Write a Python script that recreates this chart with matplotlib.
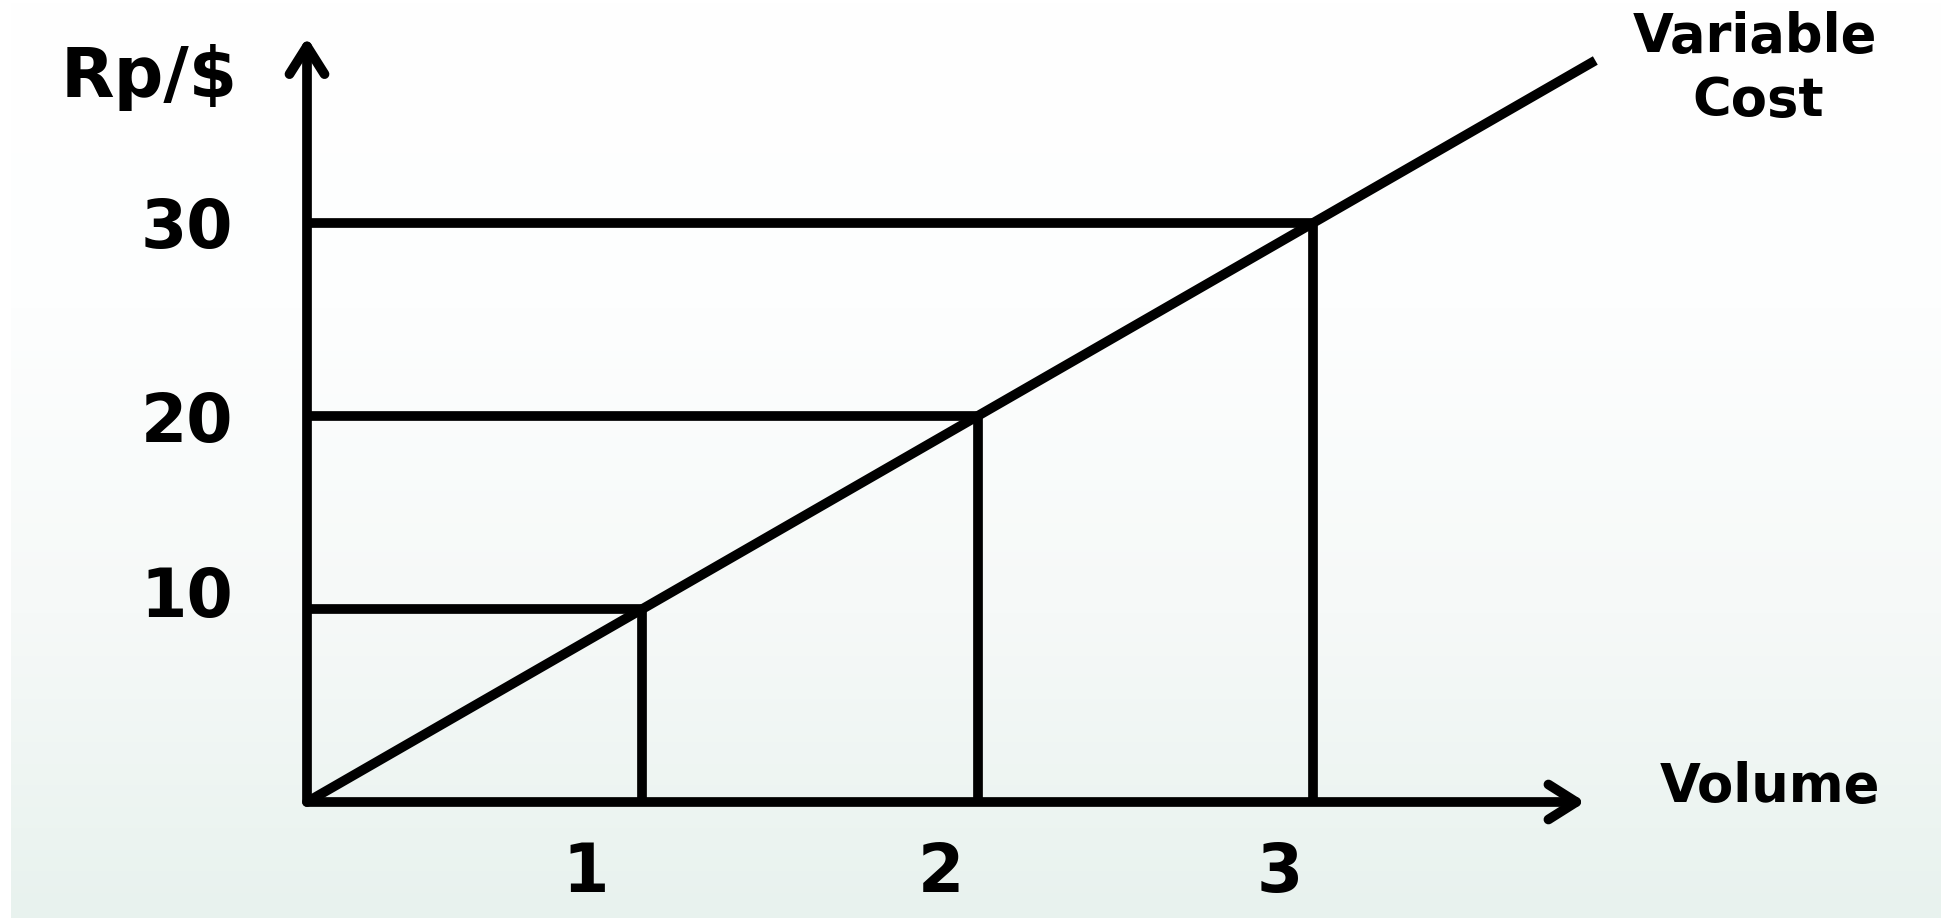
import numpy as np
import matplotlib.pyplot as plt
from matplotlib.colors import LinearSegmentedColormap

# data
volume = [1, 2, 3]
cost = [10, 20, 30]
line_end = 3.84          # where the variable cost line stops (volume units)
unit_cost = 10

# small hand-placed nudges of the tick labels (in data units)
xlab_nudge = [-0.17, -0.11, -0.10]
ylab_nudge = [0.55, -0.35, -0.35]

font = 'DejaVu Sans'

W, H, DPI = 1941, 921, 100
fig = plt.figure(figsize=(W / DPI, H / DPI), dpi=DPI)

# background gradient panel (white top -> light mint bottom)
bg = fig.add_axes([0, 0, 1, 1], zorder=0)
bg.set_axis_off()
cmap = LinearSegmentedColormap.from_list('bg', ['#ffffff', '#fdfefe', '#f6f9f8', '#e8f2ee'])
grad = np.linspace(0, 1, 256).reshape(-1, 1)
bg.imshow(grad, cmap=cmap, aspect='auto', extent=[11 / W, 1, 3 / H, 1], origin='upper')
bg.set_xlim(0, 1)
bg.set_ylim(0, 1)

# main axes over the whole figure, origin at pixel (307, 802)
ax = fig.add_axes([0, 0, 1, 1], zorder=1)
ax.patch.set_alpha(0)
px_x, px_y = 335.5, 19.31
ox, oy = 307, H - 802
ax.set_xlim(-ox / px_x, (W - ox) / px_x)
ax.set_ylim(-oy / px_y, (H - oy) / px_y)
ax.set_axis_off()

lw = 7
x_top, y_top = 3.81, 39.6

# both axes with open arrow heads
arrow = dict(arrowstyle='->,head_length=0.95,head_width=0.6', lw=lw, color='black',
             shrinkA=0, shrinkB=0, mutation_scale=21, capstyle='round', joinstyle='round')
ax.annotate('', xy=(x_top, 0), xytext=(0, 0), arrowprops=arrow)
ax.annotate('', xy=(0, y_top), xytext=(0, 0), arrowprops=arrow)

# variable cost line
xs = np.array([0, line_end])
ax.plot(xs, xs * unit_cost, color='black', lw=lw, solid_capstyle='butt')

# guide lines from each point to the axes
for v, c in zip(volume, cost):
    ax.plot([0, v], [c, c], color='black', lw=lw, solid_capstyle='butt')
    ax.plot([v, v], [0, c], color='black', lw=lw, solid_capstyle='butt')

# tick labels
for v, dx in zip(volume, xlab_nudge):
    ax.text(v + dx, -3.7, str(v), fontsize=48, fontweight='bold', family=font,
            ha='center', va='center')
for c, dy in zip(cost, ylab_nudge):
    ax.text(-0.22, c + dy, str(c), fontsize=48, fontweight='bold', family=font,
            ha='right', va='center')

# axis labels
ax.text(-0.47, 37.5, 'Rp/$', fontsize=50, fontweight='bold', family=font,
        ha='center', va='center')
ax.text(4.36, 0.78, 'Volume', fontsize=38, fontweight='bold', family=font,
        ha='center', va='center')
ax.text(4.316, 39.6, 'Variable', fontsize=38, fontweight='bold', family=font,
        ha='center', va='center')
ax.text(4.325, 36.3, 'Cost', fontsize=38, fontweight='bold', family=font,
        ha='center', va='center')

fig.savefig('out.png', dpi=DPI)
